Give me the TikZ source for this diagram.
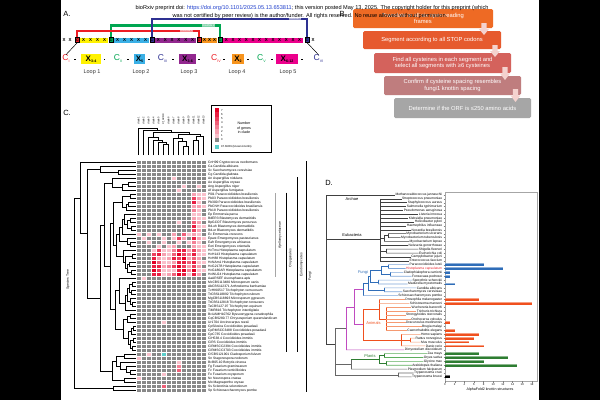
\documentclass[tikz,border=0pt]{standalone}
\usepackage{fontspec}
\setmainfont{Liberation Sans}
\definecolor{cr}{HTML}{ED1C24}
\definecolor{cg}{HTML}{00A651}
\definecolor{cb}{HTML}{2E3192}
\definecolor{yel}{HTML}{FFF200}
\definecolor{lbl}{HTML}{3AB0E6}
\definecolor{pur}{HTML}{92278F}
\definecolor{org}{HTML}{F7941D}
\definecolor{mag}{HTML}{EC008C}
\definecolor{bA}{HTML}{EE6A24}
\definecolor{bB}{HTML}{E65A2E}
\definecolor{bC}{HTML}{D4625C}
\definecolor{bD}{HTML}{BF7D7E}
\definecolor{bE}{HTML}{A6A6A6}
\definecolor{arw}{HTML}{F4D2CE}
\definecolor{hg}{HTML}{888888}
\definecolor{lv1}{HTML}{F9C0CB}
\definecolor{lv2}{HTML}{F6A0B0}
\definecolor{lv3}{HTML}{F38095}
\definecolor{lv4}{HTML}{EF6079}
\definecolor{lv5}{HTML}{EC405E}
\definecolor{lv6}{HTML}{E82043}
\definecolor{lv7}{HTML}{E30025}
\definecolor{cy}{HTML}{5CCFCB}
\definecolor{fb}{HTML}{2F6DB8}
\definecolor{fbl}{HTML}{7FA7DA}
\definecolor{ao}{HTML}{F0501E}
\definecolor{aol}{HTML}{F59A72}
\definecolor{pg}{HTML}{2E7D32}
\definecolor{pgl}{HTML}{5DAE5D}
\definecolor{mg}{HTML}{C04BC0}
\definecolor{hred}{HTML}{E8202A}
\definecolor{lnk}{HTML}{1F3FCC}
\newcommand\sbs[1]{\raisebox{-1.3pt}{\fontsize{3.6}{4}\selectfont #1}}
\newcommand\xrow[3]{\foreach \k in {1,...,#3} \node[xch] at ({#1+(\k-0.5)*(#2-#1)/#3},40) {X};}
\newcommand\nd[5]{\draw[tl] (#3,#2) -- (#1,#2) -- (#1,#4) -- (#5,#4);}
\newcommand\vnd[5]{\draw[tl] (#2,#3) -- (#2,#1) -- (#4,#1) -- (#4,#5);}
\tikzset{
 plab/.style={font=\fontsize{7.5}{8}\selectfont, inner sep=0},
 hdr/.style={font=\fontsize{5.6}{6}\selectfont, inner sep=0},
 xch/.style={font=\fontsize{4.4}{5}\selectfont\bfseries, inner sep=0},
 cbx/.style={draw=black, line width=0.3pt, minimum width=4pt, minimum height=5pt, inner sep=0, font=\fontsize{3.6}{4}\selectfont\bfseries},
 sbx/.style={minimum height=5pt, inner sep=0},
 dsr/.style={draw=cr, line width=2.3pt},
 dsg/.style={draw=cg, line width=2.3pt},
 dsb/.style={draw=cb, line width=2.3pt},
 dlab/.style={font=\fontsize{2.6}{3}\selectfont, text=white, inner sep=0.4pt},
 clab/.style={font=\fontsize{8.5}{9}\selectfont, inner sep=0},
 lbox/.style={minimum height=10pt, inner sep=0, font=\fontsize{8}{9}\selectfont\bfseries},
 looplab/.style={font=\fontsize{5.5}{6}\selectfont, text=black!80, inner sep=0},
 stepbox/.style={rounded corners=1.5pt, text=white, font=\fontsize{5.8}{6.8}\selectfont, align=center, inner sep=0},
 arrowblk/.style={fill=arw, draw=none},
 sp/.style={font=\fontsize{3.3}{3.6}\selectfont, inner sep=0, anchor=west},
 collab/.style={font=\fontsize{2.6}{3}\selectfont, inner sep=0, anchor=west, rotate=90},
 rotlab/.style={font=\fontsize{3.4}{3.8}\selectfont, inner sep=0, rotate=90},
 dn/.style={font=\fontsize{3.3}{3.6}\selectfont, inner sep=0.3pt, anchor=east},
 tl/.style={line width=0.5pt},
 bk/.style={line width=0.5pt, draw=black!75},
 gk/.style={line width=0.6pt, draw=black!60},
 fbs/.style={line width=0.6pt, draw=fb},
 fbls/.style={line width=0.6pt, draw=fbl},
 aos/.style={line width=0.6pt, draw=ao},
 aols/.style={line width=0.6pt, draw=aol},
 pgs/.style={line width=0.6pt, draw=pg},
 pgls/.style={line width=0.6pt, draw=pgl},
 mgs/.style={line width=0.6pt, draw=mg},
 treelab/.style={font=\fontsize{4}{4.5}\selectfont, inner sep=0},
 tk/.style={font=\fontsize{2.8}{3}\selectfont, inner sep=0},
}
\begin{document}
\begin{tikzpicture}[x=1pt,y=-1pt]
\useasboundingbox (0,0) rectangle (600,400);
\fill[white] (0,0) rectangle (600,400);
\fill[black] (0,0) rectangle (61,400);
\fill[black] (539,0) rectangle (600,400);

% ---------------- Panel labels
\node[plab] (la) at (67,14) {A.};
\node[plab] (lc) at (67,113) {C.};
\node[plab] (ld) at (329,183) {D.};

% ---------------- Panel A
\node[xch] at (64,40) {X};
\node[xch] at (70,40) {X};
\node[xch] at (313,40) {X};
\node[sbx, fill=yel, minimum width=28pt] (s1) at (94,40) {};
\node[sbx, fill=lbl, minimum width=35pt] (s2) at (131.5,40) {};
\node[sbx, fill=pur, minimum width=41pt] (s3) at (175.5,40) {};
\node[sbx, fill=org, minimum width=15pt] (s4) at (209.5,40) {};
\node[sbx, fill=mag, minimum width=80pt] (s5) at (263,40) {};
\xrow{80}{108}{4}
\xrow{114}{149}{5}
\xrow{155}{196}{6}
\xrow{202}{217}{3}
\xrow{223}{303}{12}
\node[cbx, fill=cr] (cb1) at (77.3,40) {C};
\node[cbx, fill=cg] (cb2) at (111,40) {C};
\node[cbx, fill=cb] (cb3) at (152,40) {C};
\node[cbx, fill=cr] (cb4) at (199,40) {C};
\node[cbx, fill=cg] (cb5) at (220,40) {C};
\node[cbx, fill=cb] (cb6) at (307,40) {C};
\draw[dsg] (cb2.north) -- ++(0,-12) -| (cb5.north);
\draw[dsr] (cb1.north) -- ++(0,-6.5) -| (cb4.north);
\draw[dsb] (cb3.north) -- ++(0,-18.5) -| (cb6.north);
\node[dlab, fill=cr!50!white] (dl1) at (186.5,31) {Disulfide 1};
\node[dlab, fill=cg!50!white] (dl2) at (208.5,25.5) {Disulfide 2};
\node[dlab, fill=cb!50!white] (dl3) at (295,19) {Disulfide 3};

% second row
\node[clab, text=cr] (c1) at (66,58.5) {C\sbs{I}};
\node[lbox, fill=yel, minimum width=20pt] (l1) at (91,59.3) {X\sbs{3-4}};
\node[clab, text=cg] (c2) at (118,58.5) {C\sbs{II}};
\node[lbox, fill=lbl, minimum width=11pt] (l2) at (139.5,59.3) {X\sbs{5}};
\node[clab, text=cb] (c3) at (162.5,58.5) {C\sbs{III}};
\node[lbox, fill=pur, minimum width=17pt] (l3) at (187.5,59.3) {X\sbs{3-6}};
\node[clab, text=cr] (c4) at (216,58.5) {C\sbs{IV}};
\node[lbox, fill=org, minimum width=12pt] (l4) at (238,59.3) {X\sbs{2}};
\node[clab, text=cg] (c5) at (261.5,58.5) {C\sbs{V}};
\node[lbox, fill=mag, minimum width=22pt] (l5) at (287,59.3) {X\sbs{6-12}};
\node[clab, text=cb] (c6) at (318.5,58.5) {C\sbs{VI}};
\foreach \x in {75,104.5,128,149,173,199,224,248,272,302}
  \fill[black] (\x-0.8,58.9) rectangle (\x+0.8,59.9);
\draw[line width=0.5pt] (cb1.south) -- (c1.north);
\draw[line width=0.5pt] (cb6.south) -- (c6.north);
\node[looplab] (lp1) at (92,71.7) {Loop 1};
\node[looplab] (lp2) at (141,71.7) {Loop 2};
\node[looplab] (lp3) at (189,71.7) {Loop 3};
\node[looplab] (lp4) at (237,71.7) {Loop 4};
\node[looplab] (lp5) at (288,71.7) {Loop 5};

% ---------------- Panel B
\node[stepbox, fill=bA, minimum width=140pt, minimum height=19pt] (b1) at (423,18.5) {Translate in all six open reading\\frames};
\node[stepbox, fill=bB, minimum width=138pt, minimum height=18pt] (b2) at (432,40) {Segment according to all STOP codons};
\node[stepbox, fill=bC, minimum width=137pt, minimum height=20pt] (b3) at (442.5,63) {Find all cysteines in each segment and\\select all segments with ≥6 cysteines};
\node[stepbox, fill=bD, minimum width=137pt, minimum height=19pt] (b4) at (452.5,85.5) {Confirm if cysteine spacing resembles\\fungi1 knottin spacing};
\node[stepbox, fill=bE, minimum width=137pt, minimum height=20pt] (b5) at (462.5,108) {Determine if the ORF is ≤250 amino acids};
\foreach \ax/\ya/\ym/\yb in {484/23/29/35, 495/45/51/57, 505/67/73.5/80, 515.5/89/95.5/102}
  \fill[arrowblk] (\ax-2.6,\ya) -- (\ax+2.6,\ya) -- (\ax+2.6,\ym) -- (\ax+5,\ym) -- (\ax,\yb) -- (\ax-5,\ym) -- (\ax-2.6,\ym) -- cycle;

% ---------------- Panel C : heatmap
\fill[hg] (136,160.5) rectangle (206,392.5);
\foreach \r/\c/\l in {4/7/1, 6/9/1, 6/12/1, 7/8/1,
 8/11/2, 8/12/1, 8/13/1, 9/11/5, 9/12/2, 9/13/1, 10/11/6, 10/12/1,
 11/11/2, 11/12/2, 11/13/1, 12/11/3, 12/12/1, 13/11/1, 13/12/1,
 14/11/2, 14/12/1, 14/13/1, 15/8/1, 15/11/4, 15/12/2, 16/11/6, 16/12/1, 16/13/1,
 17/11/5, 17/12/2,
 18/0/1, 18/2/1, 18/4/1, 18/7/2, 18/9/4, 18/10/1, 18/11/2, 18/12/1,
 19/1/1, 19/5/1, 19/7/1, 19/8/5, 19/9/2, 19/11/6, 19/12/2, 19/13/1,
 20/2/1, 20/5/1, 20/8/1, 20/10/1, 20/11/3, 20/12/1,
 21/4/1, 21/6/1, 21/7/2, 21/11/2, 21/12/1, 21/13/1,
 22/3/1, 22/4/5, 22/5/1, 22/6/1, 22/7/3, 22/8/6, 22/9/6, 22/10/2, 22/11/5, 22/12/2, 22/13/1,
 23/3/5, 23/4/6, 23/5/2, 23/6/1, 23/7/4, 23/8/7, 23/9/5, 23/10/3, 23/11/6, 23/12/1, 23/13/1,
 24/3/6, 24/4/2, 24/5/1, 24/6/2, 24/7/6, 24/8/5, 24/9/7, 24/10/2, 24/11/4, 24/12/2,
 25/3/7, 25/4/4, 25/5/1, 25/6/1, 25/7/2, 25/8/6, 25/9/6, 25/10/4, 25/11/6, 25/12/1, 25/13/1,
 26/3/6, 26/4/6, 26/5/2, 26/6/3, 26/7/5, 26/8/7, 26/9/5, 26/10/2, 26/11/5, 26/12/2,
 27/3/7, 27/4/5, 27/5/1, 27/6/1, 27/7/1, 27/8/6, 27/9/7, 27/10/3, 27/11/7, 27/12/1, 27/13/1,
 28/3/6, 28/4/6, 28/5/1, 28/6/2, 28/7/4, 28/8/7, 28/9/6, 28/10/1, 28/11/6, 28/12/2,
 29/1/1, 40/5/1, 48/2/1, 49/0/1, 50/8/1, 51/8/3, 52/8/4, 53/5/1, 54/0/1, 56/5/4}
  \fill[lv\l] ({136+5*\c},{160.5+4*\r}) rectangle ++(5,4);
\fill[cy] ({136+5*5},{160.5+4*48}) rectangle ++(5,4);
\foreach \i in {0,...,14} \draw[white, line width=0.35pt] ({136+5*\i},160.5) -- ++(0,232);
\foreach \j in {0,...,58} \draw[white, line width=0.35pt] (136,{160.5+4*\j}) -- ++(70,0);

% species names
\foreach \t [count=\i from 0] in {CnH99 Cryptococcus neoformans, Ca Candida albicans, Sc Saccharomyces cerevisiae, Cg Candida glabrata, An Aspergillus nidulans, Ao Aspergillus oryzae, Ang Aspergillus niger, Af Aspergillus fumigatus, Pl01 Paracoccidioides brasiliensis, Pb03 Paracoccidioides brasiliensis, Pb300 Paracoccidioides brasiliensis, PbCNH Paracoccidioides brasiliensis, Pb18 Paracoccidioides brasiliensis, Ep Emmonsia parva, BdER3 Blastomyces dermatitidis, BpGCOT Blastomyces percursus, Bd-eh Blastomyces dermatitidis, Bd-er Blastomyces dermatitidis, Ec Emmonsia crescens, Epast Emergomyces pasteurianus, Eafr Emergomyces africanus, Eori Emergomyces orientalis, HcTmu Histoplasma capsulatum, HcH143 Histoplasma capsulatum, HcH88 Histoplasma capsulatum, HcNAm1 Histoplasma capsulatum, HcG217B Histoplasma capsulatum, HcG186AR Histoplasma capsulatum, HcWU24 Histoplasma capsulatum, AaARSEF Ascosphaera apis, McCBS113480 Microsporum canis, AbCBS112371 Arthroderma benhamiae, TvHKI0517 Trichophyton verrucosum, TrCBS118892 Trichophyton rubrum, MgCBS118893 Microsporum gypseum, TtCBS112818 Trichophyton tonsurans, TeCBS127.97 Trichophyton equinum, TiMR816 Trichophyton interdigitale, BcUAMH10762 Byssoonygena ceratinophila, CqCBS280.77 Chrysosporium queenslandicum, Ur1704 Uncinocarpus reesii, CpSilveira Coccidioides posadasii, CpRMSCC3488 Coccidioides posadasii, CpC735 Coccidioides posadasii, CiH538.4 Coccidioides immitis, CiRS Coccidioides immitis, CiRMSCC2394 Coccidioides immitis, CiRMSCC3703 Coccidioides immitis, CfCBS121901 Cladosporium fulvum, Sn Stagonospora nodorum, BcB05.10 Botrytis cinerea, Fg Fusarium graminearum, Fv Fusarium verticillioides, Fo Fusarium oxysporum, Nc Neurospora crassa, Mo Magnaporthe oryzae, Ss Sclerotinia sclerotiorum, Sp Schizosaccharomyces pombe}
  \node[sp] (sp\i) at (208,{162.5+4*\i}) {\t};

% species tree (C)
\nd{118}{170.5}{136}{174.5}{136}
\nd{100}{166.5}{136}{172.5}{118}
\nd{128}{182.5}{136}{186.5}{136}
\nd{122}{184.5}{128}{190.5}{136}
\nd{112}{178.5}{136}{187.5}{122}
\nd{130}{194.5}{136}{198.5}{136}
\nd{128}{202.5}{136}{206.5}{136}
\nd{126}{204.5}{128}{210.5}{136}
\nd{122}{196.5}{130}{207.5}{126}
\nd{130}{218.5}{136}{222.5}{136}
\nd{131}{226.5}{136}{230.5}{136}
\nd{127}{220.5}{130}{228.5}{131}
\nd{124}{214.5}{136}{224.5}{127}
\nd{122}{219.5}{124}{234.5}{136}
\nd{130}{242.5}{136}{246.5}{136}
\nd{127}{238.5}{136}{244.5}{130}
\nd{119}{227}{122}{241.5}{127}
\nd{132}{254.5}{136}{258.5}{136}
\nd{129}{262.5}{136}{266.5}{136}
\nd{131}{270.5}{136}{274.5}{136}
\nd{127}{264.5}{129}{272.5}{131}
\nd{125}{256.5}{132}{268.5}{127}
\nd{123}{250.5}{136}{262.5}{125}
\nd{116}{234.25}{119}{256.5}{123}
\nd{113}{202}{122}{245.4}{116}
\nd{132}{282.5}{136}{286.5}{136}
\nd{131}{290.5}{136}{294.5}{136}
\nd{129}{284.5}{132}{292.5}{131}
\nd{132}{302.5}{136}{306.5}{136}
\nd{130}{298.5}{136}{304.5}{132}
\nd{127}{288.5}{129}{301.5}{130}
\nd{125}{295}{127}{310.5}{136}
\nd{119}{278.5}{136}{302.75}{125}
\nd{130}{314.5}{136}{318.5}{136}
\nd{127}{316.5}{130}{322.5}{136}
\nd{133}{326.5}{136}{330.5}{136}
\nd{131}{328.5}{133}{334.5}{136}
\nd{133}{338.5}{136}{342.5}{136}
\nd{132}{346.5}{136}{350.5}{136}
\nd{130}{340.5}{133}{348.5}{132}
\nd{128}{331.5}{131}{344.5}{130}
\nd{123}{319.5}{127}{338}{128}
\nd{115}{290.6}{119}{328.75}{123}
\nd{110}{223.7}{113}{309.7}{115}
\nd{104}{183}{112}{266.7}{110}
\nd{124}{354.5}{136}{358.5}{136}
\nd{130}{370.5}{136}{374.5}{136}
\nd{126}{366.5}{136}{372.5}{130}
\nd{120}{362.5}{136}{369.5}{126}
\nd{116}{356.5}{124}{366}{120}
\nd{124}{378.5}{136}{382.5}{136}
\nd{112}{361.25}{116}{380.5}{124}
\nd{100}{224.85}{104}{370.9}{112}
\nd{87}{169.5}{100}{297.9}{100}
\nd{80}{162.5}{136}{233.7}{87}
\nd{113}{386.5}{136}{390.5}{136}
\nd{74}{198.1}{80}{388.5}{113}
\node[rotlab] (sptree) at (68,280) {Species Tree};

% column dendrogram
\vnd{144}{163.5}{155}{168.5}{155}
\vnd{142}{158.5}{155}{166}{144}
\vnd{140}{153.5}{155}{162.25}{142}
\vnd{137}{148.5}{155}{157.9}{140}
\vnd{146}{183.5}{155}{188.5}{155}
\vnd{141}{178.5}{155}{186}{146}
\vnd{138}{173.5}{155}{182.25}{141}
\vnd{140}{193.5}{155}{198.5}{155}
\vnd{136}{196}{140}{203.5}{155}
\vnd{134}{177.9}{138}{199.75}{136}
\vnd{132}{153.2}{137}{188.8}{134}
\vnd{130}{143.5}{155}{171}{132}
\vnd{128}{138.5}{155}{157.25}{130}
\foreach \t [count=\i from 0] in {clade1, clade2, clade3, clade4, clade5, Cf\_AVR9, clade6, clade7, clade8, clade9, clade10, clade11, clade12, clade13}
  \node[collab] (cl\i) at ({138.5+5*\i},125) {\t};

% legend
\draw[line width=0.8pt] (211,105) rectangle (271,152);
\foreach \v/\c in {7/lv7, 6/lv6, 5/lv5, 4/lv4, 3/lv3, 2/lv2, 1/lv1, 0/hg} {
  \fill[\c] (215,{108+4.25*(7-\v)}) rectangle ++(4,4.25);
  \node[tk, anchor=west] at (221,{110.1+4.25*(7-\v)}) {\v};
}
\node[font=\fontsize{3.6}{4.3}\selectfont, align=center, inner sep=0] (legt) at (244,128) {Number\\of genes\\in clade};
\fill[cy] (215,145) rectangle (219,149);
\node[tk, anchor=west] (legc) at (221,147) {Cf AVR9 (known knottin)};

% clade bars
\draw[gray!70, line width=0.8pt] (275,193) -- (275,277);
\node[rotlab] at (280,235) {Ajellomycetaceae};
\draw[line width=0.6pt] (286,192.5) -- (286,352);
\node[rotlab] at (290.5,258) {Onygenales};
\draw[line width=0.6pt] (297,177) -- (297,352);
\node[rotlab] at (301.5,265) {Eurotiomycetes};
\draw[line width=0.6pt] (306,161) -- (306,392);
\node[rotlab] at (310,276) {Fungi};

% ---------------- Panel D
\foreach \t [count=\i] in {Methanocaldococcus jannaschii, Streptococcus pneumoniae, Staphylococcus aureus, Salmonella typhimurium, Pseudomonas aeruginosa, Listeria innocua, Klebsiella pneumoniae, Helicobacter pylori, Haemophilus influenzae, Nocardia brasiliensis, Mycobacterium ulcerans, Mycobacterium tuberculosis, Mycobacterium leprae, Neisseria gonorrhoeae, Shigella flexneri, Escherichia coli, Campylobacter jejuni, Enterococcus faecium, Paracoccidioides lutzii, {\textcolor{hred}{Histoplasma capsulatum}}, Cladophialophora carrionii, Fonsecaea pedrosoi, Sporothrix schenckii, Madurella mycetomatis, Candida albicans, Saccharomyces cerevisiae, Schizosaccharomyces pombe, Drosophila melanogaster, Schistosoma mansoni, Wuchereria bancrofti, Trichuris trichiura, Strongyloides stercoralis, Onchocerca volvulus, Dracunculus medinensis, Brugia malayi, Caenorhabditis elegans, Homo sapiens, Rattus norvegicus, Mus musculus, Danio rerio, Dictyostelium discoideum, Zea mays, Oryza sativa, Glycine max, Arabidopsis thaliana, Plasmodium falciparum, Trypanosoma cruzi, Trypanosoma brucei}
  \node[dn] (d\i) at (442.6,{195+3.87*(\i-1)}) {\t};

% root and bacteria
\draw[bk] (d1.west) -- (326,195) -- (326,344.3) -- (335,344.3);
\draw[bk] (326,239.3) -- (380,239.3);
\draw[bk] (380,198.87) -- (380,260.79);
\foreach \n in {2,...,10,14,17,18} \draw[bk] (380,{195+3.87*(\n-1)}) -- (d\n.west);
\draw[bk] (380,238.5) -- (384,238.5);
\draw[bk] (384,235.6) -- (384,241.44);
\draw[bk] (384,235.6) -- (388,235.6);
\draw[bk] (388,233.7) -- (388,237.57);
\draw[bk] (388,233.7) -- (d11.west);
\draw[bk] (388,237.57) -- (d12.west);
\draw[bk] (384,241.44) -- (d13.west);
\draw[bk] (380,251.1) -- (386,251.1);
\draw[bk] (386,249.18) -- (386,253.05);
\draw[bk] (386,249.18) -- (d15.west);
\draw[bk] (386,253.05) -- (d16.west);
% eukaryotes
\draw[gk] (335,328.35) -- (335,374.96);
\draw[gk] (335,328.35) -- (346,328.35);
\draw[mgs] (346,306.95) -- (346,349.8);
\draw[mgs] (346,349.8) -- (d41.west);
\draw[mgs] (346,306.95) -- (354,306.95);
\draw[mgs] (354,289.36) -- (354,324.6);
\draw[mgs] (354,289.36) -- (363,289.36);
\draw[mgs] (354,324.6) -- (363,324.6);
% fungi
\draw[fbs] (363,283.1) -- (363,295.62);
\draw[fbs] (363,283.1) -- (368,283.1);
\draw[fbs] (368,276.3) -- (368,289.85);
\draw[fbs] (368,276.3) -- (370,276.3);
\draw[fbs] (370,270.5) -- (370,282.05);
\draw[fbs] (370,270.5) -- (381,270.5);
\draw[fbs] (381,266.6) -- (381,274.35);
\draw[fbs] (381,266.6) -- (388,266.6);
\draw[fbs] (388,264.66) -- (388,268.53);
\draw[fbs] (381,274.35) -- (390,274.35);
\draw[fbs] (390,272.4) -- (390,276.27);
\draw[fbs] (370,282.05) -- (378,282.05);
\draw[fbs] (378,280.14) -- (378,284.01);
\draw[fbs] (368,289.85) -- (384,289.85);
\draw[fbs] (384,287.88) -- (384,291.75);
\draw[fbls] (388,264.66) -- (d19.west);
\draw[fbls] (388,268.53) -- (d20.west);
\draw[fbls] (390,272.4) -- (d21.west);
\draw[fbls] (390,276.27) -- (d22.west);
\draw[fbls] (378,280.14) -- (d23.west);
\draw[fbls] (378,284.01) -- (d24.west);
\draw[fbls] (384,287.88) -- (d25.west);
\draw[fbls] (384,291.75) -- (d26.west);
\draw[fbls] (363,295.62) -- (d27.west);
% animals
\draw[aos] (363,309.17) -- (363,340.1);
\draw[aos] (363,309.17) -- (379,309.17);
\draw[aos] (379,299.49) -- (379,318.84);
\draw[aols] (379,299.49) -- (d28.west);
\draw[aols] (379,303.36) -- (d29.west);
\draw[aos] (379,318.84) -- (386,318.84);
\draw[aos] (386,307.23) -- (386,330.45);
\foreach \n in {30,...,36} \draw[aols] (386,{195+3.87*(\n-1)}) -- (d\n.west);
\draw[aos] (363,340.1) -- (410,340.1);
\draw[aos] (401,334.32) -- (401,345.93);
\draw[aos] (410,338.19) -- (410,342.06);
\draw[aols] (401,334.32) -- (d37.west);
\draw[aols] (401,345.93) -- (d40.west);
\draw[aols] (410,338.19) -- (d38.west);
\draw[aols] (410,342.06) -- (d39.west);
% plants, plasmodium, trypanosomes
\draw[gk] (335,364.3) -- (351,364.3);
\draw[gk] (351,359.5) -- (351,369.15);
\draw[gk] (351,369.15) -- (d46.west);
\draw[pgs] (351,359.5) -- (379,359.5);
\draw[pgs] (379,355.6) -- (379,363.35);
\draw[pgs] (379,355.6) -- (384,355.6);
\draw[pgs] (384,353.67) -- (384,357.54);
\draw[pgs] (379,363.35) -- (386,363.35);
\draw[pgs] (386,361.41) -- (386,365.28);
\draw[pgls] (384,353.67) -- (d42.west);
\draw[pgls] (384,357.54) -- (d43.west);
\draw[pgls] (386,361.41) -- (d44.west);
\draw[pgls] (386,365.28) -- (d45.west);
\draw[gk] (335,374.96) -- (398,374.96);
\draw[gk] (398,373.02) -- (398,376.89);
\draw[gk] (398,373.02) -- (d47.west);
\draw[gk] (398,376.89) -- (d48.west);
% clade labels
\node[treelab] (tArch) at (352,199.5) {Archae};
\node[treelab] (tEub) at (352,235.3) {Eubacteria};
\node[treelab, text=fb] (tFun) at (363,272) {Fungi};
\node[treelab, text=ao] (tAni) at (373.5,323.5) {Animals};
\node[treelab, text=pg] (tPla) at (370,356.3) {Plants};

% bar chart
\draw[gray!70, line width=0.6pt] (445,192.7) rectangle (537,381);
\foreach \n in {1,...,48} \draw[gray, line width=0.25pt] (443.6,{195+3.87*(\n-1)}) -- (445,{195+3.87*(\n-1)});
\foreach \n/\v/\c in {19/8/fb, 20/12/fb, 21/1/fb, 22/1/fb, 24/2/fb, 28/7/ao, 29/18/ao, 34/1/ao, 36/2/ao, 37/7/ao, 38/6/ao, 39/5/ao, 40/8/ao, 42/7/pg, 43/13/pg, 44/8/pg, 45/15/pg, 48/1/black} {
  \fill[\c] (445,{195+3.87*(\n-1)-1.4}) rectangle ({445+4.83*\v},{195+3.87*(\n-1)+1.4});
  \fill[\c!55!white] (445,{195+3.87*(\n-1)-1.4}) rectangle ({445+4.83*\v},{195+3.87*(\n-1)-0.4});
}
\foreach \v in {0,2,...,18} {
  \draw[gray, line width=0.3pt] ({445+4.83*\v},381) -- ++(0,1.5);
  \node[tk] at ({445+4.83*\v},385) {\v};
}
\node[font=\fontsize{3.6}{4}\selectfont, inner sep=0] (xlab) at (490,389.5) {AlphaFold2 knottin structures};

% ---------------- Header (drawn on top)
\node[hdr] (h1) at (312,7.6) {bioRxiv preprint doi: \textcolor{lnk}{https://doi.org/10.1101/2025.05.13.653811}; this version posted May 13, 2025. The copyright holder for this preprint (which};
\node[hdr] (h2) at (310,15.7) {was not certified by peer review) is the author/funder. All rights reserved. No reuse allowed without permission.};
\node[plab] (lb) at (342,14) {B};
\end{tikzpicture}
\end{document}
